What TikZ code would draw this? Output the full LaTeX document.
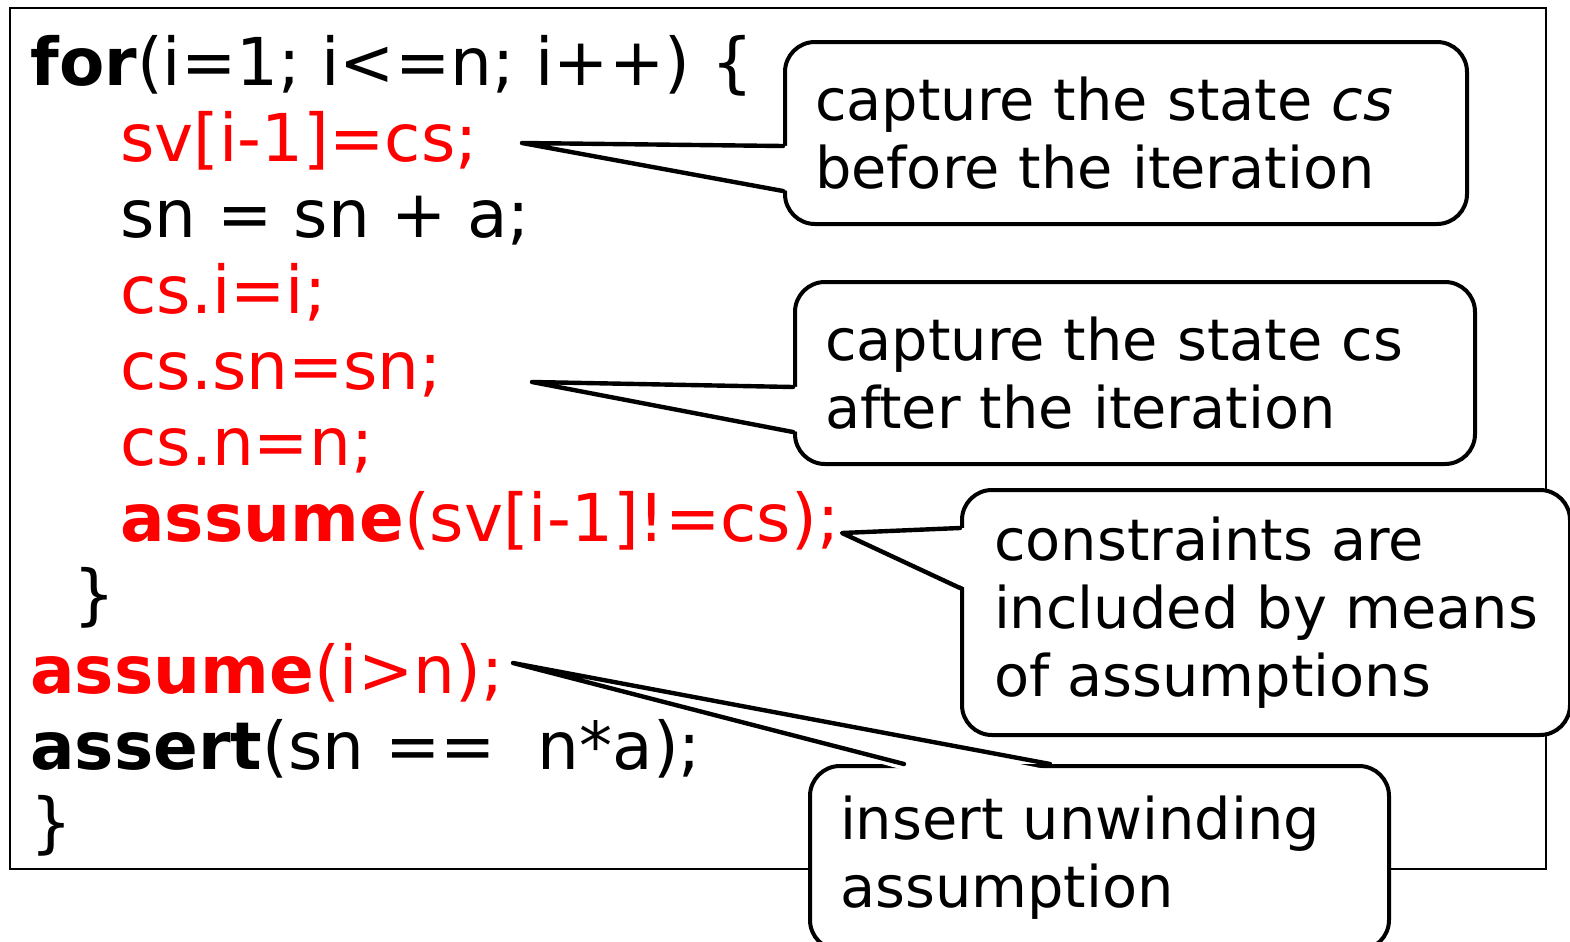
\documentclass[tikz,border=0pt]{standalone}
\usepackage{fontspec}
\setmainfont{DejaVu Sans}
\newcommand{\codefont}{\fontsize{33pt}{38pt}\selectfont}
\newcommand{\notefont}{\fontsize{28.7pt}{34pt}\selectfont}

\tikzset{
  code/.style={anchor=base west, inner sep=0pt, font=\codefont},
  hot/.style={code, text=red},
  bubble/.style={draw, line width=2pt, rounded corners=15pt, fill=white,
    anchor=north west, inner xsep=15pt, inner ysep=0pt, align=left, font=\notefont},
  pointer/.style={line width=2.2pt, line join=round, line cap=round},
}

\begin{document}
\begin{tikzpicture}[x=0.5pt, y=-0.5pt]
  \useasboundingbox (0,0) rectangle (1570,942);
  \draw[line width=0.8pt] (10,8) rectangle (1546,869);

  % the loop
  \node[code] (c1)  at (30, 85)  {\textbf{for}(i=1; i<=n; i++) \{};
  \node[hot]  (c2)  at (120,161) {sv[i-1]=cs;};
  \node[code] (c3)  at (120,237) {sn = sn + a;};
  \node[hot]  (c4)  at (120,313) {cs.i=i;};
  \node[hot]  (c5)  at (120,389) {cs.sn=sn;};
  \node[hot]  (c6)  at (120,465) {cs.n=n;};
  \node[hot]  (c7)  at (120,541) {\textbf{assume}(sv[i-1]!=cs);};
  \node[code] (c8)  at (73, 617)  {\}};
  \node[hot]  (c9)  at (30, 693) {\textbf{assume}(i>n);};
  \node[code] (c10) at (30, 769) {\textbf{assert}(sn ==\ \ n*a);};
  \node[code] (c11) at (30, 845) {\}};

  % notes
  \node[bubble, text width=311pt, minimum height=91pt] (b1) at (783,40)
    {capture the state \textit{cs}\\before the iteration};
  \node[bubble, text width=310pt, minimum height=91pt] (b2) at (793,280)
    {capture the state cs\\after the iteration};
  \node[bubble, minimum width=304pt, minimum height=122.5pt] (b3) at (960,488)
    {constraints are\\included by means\\of assumptions};
  \node[bubble, text width=259.5pt, minimum height=92pt] (b4) at (808,764)
    {insert unwinding\\assumption};

  % pointer tips and bases
  \coordinate (t1) at (522,143);
  \coordinate (p1a) at (783,146);
  \coordinate (p1b) at (783,191);
  \coordinate (t2) at (532,382);
  \coordinate (p2a) at (793,387);
  \coordinate (p2b) at (793,432);
  \coordinate (t3) at (842,533);
  \coordinate (p3a) at (960,528);
  \coordinate (p3b) at (960,588);
  \coordinate (t4) at (513,663);
  \coordinate (p4a) at (904,764);
  \coordinate (p4b) at (1050,764);

  \fill[white] (t1) -- ([xshift=3pt]p1a) -- ([xshift=3pt]p1b) -- cycle;
  \draw[pointer] (p1a) -- (t1) -- (p1b);
  \fill[white] (t2) -- ([xshift=3pt]p2a) -- ([xshift=3pt]p2b) -- cycle;
  \draw[pointer] (p2a) -- (t2) -- (p2b);
  \fill[white] (t3) -- ([xshift=3pt]p3a) -- ([xshift=3pt]p3b) -- cycle;
  \draw[pointer] (p3a) -- (t3) -- (p3b);
  \fill[white] (t4) -- ([yshift=-3pt]p4a) -- ([yshift=-3pt]p4b) -- cycle;
  \draw[pointer] (p4a) -- (t4) -- (p4b);
\end{tikzpicture}
\end{document}
